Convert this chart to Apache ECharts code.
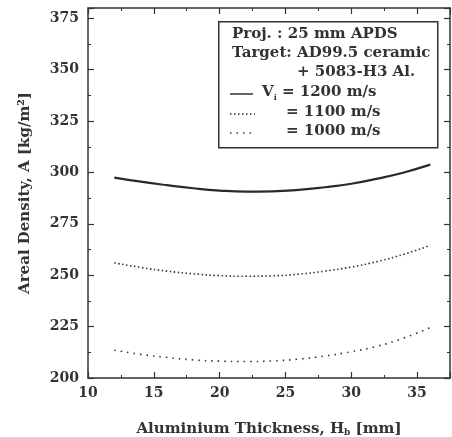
<!DOCTYPE html>
<html><head><meta charset="utf-8">
<script src="https://cdn.jsdelivr.net/npm/echarts@6/dist/echarts.min.js"></script>
<style>html,body{margin:0;padding:0;background:#fff}#c{width:452px;height:437px}</style>
</head><body><div id="c"></div>
<script>
var thickness = [12, 14, 16, 18, 20, 22, 24, 26, 28, 30, 32, 34, 36];
var v1200 = [297.5, 295.5, 293.8, 292.3, 291.2, 290.7, 290.8, 291.5, 292.8, 294.5, 297.0, 300.0, 303.8];
var v1100 = [256.0, 253.8, 252.0, 250.7, 249.8, 249.5, 249.7, 250.5, 252.0, 254.0, 256.7, 260.2, 264.5];
var v1000 = [213.5, 211.5, 210.0, 208.8, 208.2, 208.0, 208.3, 209.2, 210.7, 212.8, 215.5, 219.5, 224.5];
var seriesNames = ['1200 m/s', '1100 m/s', '1000 m/s'];
var xTicks = [10, 15, 20, 25, 30, 35];
var yTicks = [200, 225, 250, 275, 300, 325, 350, 375];

var FONT = 'DejaVu Serif';
var INK = '#333';
function pairs(ys){ return thickness.map(function(x,i){ return [x, ys[i]]; }); }

var axisCommon = {
  axisLine: {show: true, lineStyle: {color: INK, width: 1.5}},
  axisTick: {show: true, inside: true, length: 6, lineStyle: {color: INK, width: 1.2}},
  minorTick: {show: true, splitNumber: 2, length: 3, lineStyle: {color: INK, width: 1}},
  splitLine: {show: false}
};
function ax(extra){ return Object.assign({}, JSON.parse(JSON.stringify(axisCommon)), extra); }

var LF = 'bold 15px "DejaVu Serif"';
var chart = echarts.init(document.getElementById('c'));
chart.setOption({
  animation: false,
  backgroundColor: '#fff',
  grid: {left: 88, right: 2, top: 8, bottom: 59, containLabel: false, outerBoundsMode: 'none'},
  xAxis: [
    ax({type: 'value', min: 10, max: 37.5, interval: 5, position: 'bottom',
      name: 'Aluminium Thickness, H{sub|b} [mm]', nameLocation: 'middle', nameGap: 44,
      nameTextStyle: {fontFamily: FONT, fontWeight: 'bold', fontSize: 15, color: INK,
        rich: {sub: {fontFamily: FONT, fontWeight: 'bold', fontSize: 9, color: INK, verticalAlign: 'bottom', padding: [6,0,0,0]}}},
      axisLabel: {show: true, fontFamily: FONT, fontWeight: 'bold', fontSize: 14, color: INK, margin: 8, showMaxLabel: false,
        formatter: function(v){ return xTicks.indexOf(v) >= 0 ? String(v) : ''; }}}),
    ax({type: 'value', min: 10, max: 37.5, interval: 5, position: 'top', axisLabel: {show: false}})
  ],
  yAxis: [
    ax({type: 'value', min: 200, max: 380, interval: 25, position: 'left',
      name: 'Areal Density, A [kg/m²]', nameLocation: 'middle', nameGap: 55, nameRotate: 90,
      nameTextStyle: {fontFamily: FONT, fontWeight: 'bold', fontSize: 15, color: INK},
      axisLabel: {show: true, fontFamily: FONT, fontWeight: 'bold', fontSize: 14, color: INK, margin: 9, showMaxLabel: false,
        formatter: function(v){ return yTicks.indexOf(v) >= 0 ? String(v) : ''; }}}),
    ax({type: 'value', min: 200, max: 380, interval: 25, position: 'right', axisLabel: {show: false}})
  ],
  series: [
    {name: seriesNames[0], type: 'line', data: pairs(v1200), smooth: true, symbol: 'none',
      lineStyle: {color: '#2a2a2a', width: 2.2, type: 'solid'}},
    {name: seriesNames[1], type: 'line', data: pairs(v1100), smooth: true, symbol: 'none',
      lineStyle: {color: '#333', width: 1.6, type: [1.5, 2.5]}},
    {name: seriesNames[2], type: 'line', data: pairs(v1000), smooth: true, symbol: 'none',
      lineStyle: {color: '#333', width: 1.6, type: [1.5, 5]}}
  ],
  graphic: [
    {type: 'rect', left: 218, top: 21, shape: {width: 219, height: 126},
      style: {fill: '#fff', stroke: INK, lineWidth: 1.5}},
    {type: 'text', left: 232, top: 27, style: {text: 'Proj. : 25 mm APDS', font: LF, fill: INK}},
    {type: 'text', left: 232, top: 46, style: {text: 'Target: AD99.5 ceramic', font: LF, fill: INK}},
    {type: 'text', left: 297, top: 65, style: {text: '+ 5083-H3 Al.', font: LF, fill: INK}},
    {type: 'line', shape: {x1: 230, y1: 94, x2: 253, y2: 94}, style: {stroke: INK, lineWidth: 1.5}},
    {type: 'text', left: 262, top: 85, style: {text: 'V{s|i} = ' + seriesNames[0], font: LF, fill: INK,
      rich: {s: {font: 'bold 8px "DejaVu Serif"', fill: INK, padding: [10,0,0,0]}}}},
    {type: 'line', shape: {x1: 230, y1: 114, x2: 255, y2: 114}, style: {stroke: INK, lineWidth: 1.3, lineDash: [1.5, 2.5]}},
    {type: 'text', left: 286, top: 105, style: {text: '= ' + seriesNames[1], font: LF, fill: INK}},
    {type: 'line', shape: {x1: 230, y1: 133, x2: 255, y2: 133}, style: {stroke: INK, lineWidth: 1.3, lineDash: [1.5, 5]}},
    {type: 'text', left: 286, top: 124, style: {text: '= ' + seriesNames[2], font: LF, fill: INK}}
  ]
});
</script></body></html>
